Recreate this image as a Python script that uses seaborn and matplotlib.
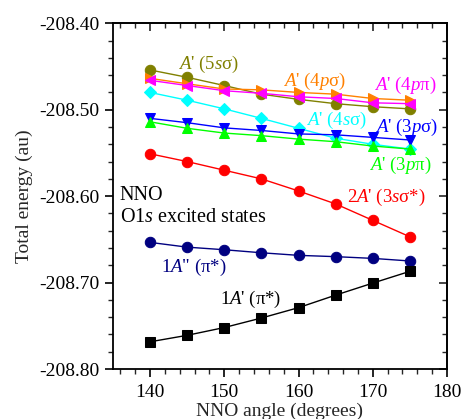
import numpy as np
import pandas as pd
import matplotlib
matplotlib.use("Agg")
import matplotlib.pyplot as plt
import seaborn as sns
from matplotlib.ticker import MultipleLocator, FormatStrFormatter

angles = [140, 145, 150, 155, 160, 165, 170, 175]

e_5ssigma = [-208.454, -208.4625, -208.472, -208.482, -208.488, -208.493, -208.4965, -208.499]
e_4psigma = [-208.4637, -208.470, -208.476, -208.477, -208.480, -208.482, -208.487, -208.489]
e_4ppi = [-208.466, -208.472, -208.478, -208.481, -208.485, -208.487, -208.492, -208.493]
e_4ssigma = [-208.480, -208.489, -208.499, -208.510, -208.5215, -208.533, -208.540, -208.5455]
e_3psigma = [-208.510, -208.515, -208.521, -208.524, -208.528, -208.529, -208.532, -208.535]
e_3ppi = [-208.514, -208.5215, -208.527, -208.530, -208.534, -208.537, -208.542, -208.5455]
e_3ssigma_star = [-208.551, -208.560, -208.570, -208.580, -208.594, -208.609, -208.628, -208.647]
e_1app_pi = [-208.6535, -208.659, -208.662, -208.6655, -208.6685, -208.670, -208.672, -208.675]
e_1ap_pi = [-208.7685, -208.761, -208.752, -208.741, -208.729, -208.7145, -208.7006, -208.687]

series = [
    ("5ssigma", e_5ssigma, "#808000", "o", 7.5),
    ("4psigma", e_4psigma, "#FF8000", ">", 7.5),
    ("4ppi", e_4ppi, "#FF00FF", "<", 7.5),
    ("4ssigma", e_4ssigma, "#00FFFF", "D", 6.5),
    ("3psigma", e_3psigma, "#0000FF", "v", 7.5),
    ("3ppi", e_3ppi, "#00FF00", "^", 7.5),
    ("3ssigma*", e_3ssigma_star, "#FF0000", "o", 7.5),
    ("1A''", e_1app_pi, "#000080", "o", 7.5),
    ("1A'", e_1ap_pi, "#000000", "s", 6.5),
]

sns.set_style("ticks")
plt.rcParams["font.family"] = ["Liberation Serif", "DejaVu Serif"]
plt.rcParams["mathtext.fontset"] = "custom"
plt.rcParams["mathtext.rm"] = "Liberation Serif"
plt.rcParams["mathtext.it"] = "Liberation Serif:italic"
plt.rcParams["axes.unicode_minus"] = False

fig = plt.figure(figsize=(4.63, 4.19), dpi=100)
ax = fig.add_axes([0.244, 0.1193, 0.7214, 0.8251])

for name, vals, col, mk, ms in series:
    df = pd.DataFrame({"angle": angles, "energy": vals})
    sns.lineplot(data=df, x="angle", y="energy", ax=ax, color=col, marker=mk,
                 markersize=ms, markeredgecolor=col, markerfacecolor=col,
                 linewidth=1.0, legend=False)

ax.set_xlim(135, 180)
ax.set_ylim(-208.80, -208.40)
ax.xaxis.set_major_locator(MultipleLocator(10))
ax.xaxis.set_minor_locator(MultipleLocator(2))
ax.yaxis.set_major_locator(MultipleLocator(0.1))
ax.yaxis.set_minor_locator(MultipleLocator(0.02))
ax.yaxis.set_major_formatter(FormatStrFormatter("%.2f"))

for sp in ax.spines.values():
    sp.set_linewidth(1.3)
    sp.set_color("black")

ax.tick_params(axis="both", which="major", direction="out", length=6, width=1.2,
               labelsize=14, colors="black", top=False, right=False)
ax.tick_params(axis="both", which="minor", direction="out", length=3.5, width=1.0,
               top=False, right=False)
ax.xaxis.set_tick_params(pad=5)

axt = ax.secondary_xaxis("top")
axt.xaxis.set_major_locator(MultipleLocator(10))
axt.xaxis.set_minor_locator(MultipleLocator(2))
axt.tick_params(axis="x", which="major", direction="in", length=6, width=1.2, labeltop=False)
axt.tick_params(axis="x", which="minor", direction="in", length=3.5, width=1.0)
axr = ax.secondary_yaxis("right")
axr.yaxis.set_major_locator(MultipleLocator(0.1))
axr.yaxis.set_minor_locator(MultipleLocator(0.02))
axr.tick_params(axis="y", which="major", direction="in", length=6, width=1.2, labelright=False)
axr.tick_params(axis="y", which="minor", direction="in", length=3.5, width=1.0)
for s in axt.spines.values():
    s.set_linewidth(1.3)
for s in axr.spines.values():
    s.set_linewidth(1.3)

ax.set_xlabel("NNO angle (degrees)", fontsize=14, labelpad=1)
ax.set_ylabel("Total energy (au)", fontsize=14, labelpad=5)

fs = 13.5
ax.text(147.8, -208.448, "$A$' (5$s$σ)", color="#808000", fontsize=fs, ha="center", va="center")
ax.text(162.2, -208.467, "$A$' (4$p$σ)", color="#FF8000", fontsize=fs, ha="center", va="center")
ax.text(174.4, -208.4714, "$A$' (4$p$π)", color="#FF00FF", fontsize=fs, ha="center", va="center")
ax.text(165.05, -208.512, "$A$' (4$s$σ)", color="#00FFFF", fontsize=fs, ha="center", va="center")
ax.text(174.6, -208.520, "$A$' (3$p$σ)", color="#0000FF", fontsize=fs, ha="center", va="center")
ax.text(173.7, -208.564, "$A$' (3$p$π)", color="#00FF00", fontsize=fs, ha="center", va="center")
ax.text(171.8, -208.602, "2$A$' (3$s$σ*)", color="#FF0000", fontsize=fs, ha="center", va="center")
ax.text(145.9, -208.682, "1$A$\" (π*)", color="#000080", fontsize=fs, ha="center", va="center")
ax.text(153.6, -208.720, "1$A$' (π*)", color="#000000", fontsize=fs, ha="center", va="center")
ax.text(135.9, -208.599, "NNO", color="black", fontsize=14.5, ha="left", va="center")
ax.text(135.9, -208.625, "O1$s$ excited states", color="black", fontsize=14.5, ha="left", va="center")

fig.savefig("out.png", dpi=100)
